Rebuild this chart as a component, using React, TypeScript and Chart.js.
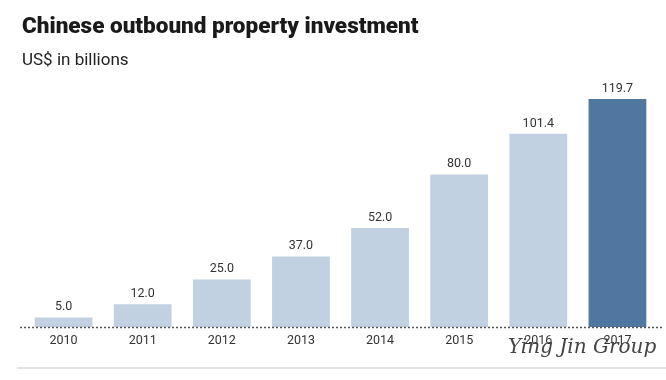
import React, { useEffect, useRef } from "react";
import { Chart, registerables } from "chart.js";

Chart.register(...registerables);

const years = ["2010", "2011", "2012", "2013", "2014", "2015", "2016", "2017"];
const investment = [5.0, 12.0, 25.0, 37.0, 52.0, 80.0, 101.4, 119.7];
const barColors = ["#c1d1e1", "#c1d1e1", "#c1d1e1", "#c1d1e1", "#c1d1e1", "#c1d1e1", "#c1d1e1", "#4f77a0"];

const valueLabels = {
  id: "valueLabels",
  afterDatasetsDraw(chart: any) {
    const ctx = chart.ctx;
    const meta = chart.getDatasetMeta(0);
    ctx.save();
    ctx.font = "12.5px Roboto";
    ctx.fillStyle = "#333333";
    ctx.textAlign = "center";
    ctx.textBaseline = "bottom";
    meta.data.forEach((bar: any, i: number) => {
      ctx.fillText(investment[i].toFixed(1), bar.x, bar.y - 4);
    });
    // dotted baseline
    const y0 = chart.scales.y.getPixelForValue(0);
    ctx.strokeStyle = "#555555";
    ctx.lineWidth = 1.5;
    ctx.setLineDash([2, 2]);
    ctx.beginPath();
    ctx.moveTo(20, y0 + 0.5);
    ctx.lineTo(662, y0 + 0.5);
    ctx.stroke();
    ctx.restore();
  },
};

export default function App() {
  const ref = useRef<HTMLCanvasElement>(null);
  useEffect(() => {
    if (!ref.current) return;
    const chart = new Chart(ref.current, {
      type: "bar",
      data: {
        labels: years,
        datasets: [
          {
            data: investment,
            backgroundColor: barColors,
            categoryPercentage: 1,
            barPercentage: 0.73,
          },
        ],
      },
      options: {
        animation: false,
        responsive: false,
        maintainAspectRatio: false,
        layout: { padding: { left: 24, right: 9, top: 99, bottom: 26 } },
        plugins: { legend: { display: false }, tooltip: { enabled: false } },
        scales: {
          x: {
            grid: { display: false, drawTicks: false },
            border: { display: false },
            ticks: { color: "#333333", font: { family: "Roboto", size: 12.5 }, padding: 6 },
          },
          y: { display: false, min: 0, max: 119.7 },
        },
      },
      plugins: [valueLabels],
    });
    return () => chart.destroy();
  }, []);

  return (
    <div style={{ position: "absolute", left: 0, top: 0, width: 666, height: 380, background: "#ffffff", overflow: "hidden" }}>
      <canvas ref={ref} width={666} height={380} style={{ position: "absolute", left: 0, top: 0 }} />
      <div style={{ position: "absolute", left: 22, top: 12, fontFamily: "Roboto", fontWeight: 900, fontSize: 22.5, color: "#1a1a1a", whiteSpace: "nowrap" }}>
        Chinese outbound property investment
      </div>
      <div style={{ position: "absolute", left: 22, top: 49, fontFamily: "Roboto", fontSize: 17, color: "#222222", whiteSpace: "nowrap" }}>
        US$ in billions
      </div>
      <div style={{ position: "absolute", left: 17, top: 367, width: 649, height: 2, background: "#e4e4e4" }} />
      <div style={{ position: "absolute", left: 508, top: 334, fontFamily: "DejaVu Serif", fontStyle: "italic", fontSize: 20, color: "#444444", whiteSpace: "nowrap" }}>
        Ying Jin Group
      </div>
    </div>
  );
}
